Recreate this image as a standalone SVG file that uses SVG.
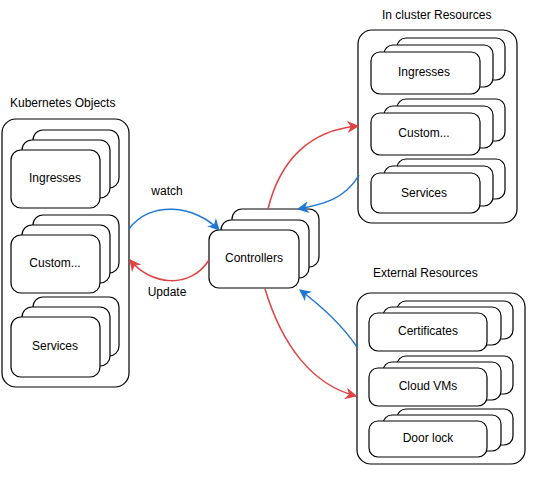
<svg xmlns="http://www.w3.org/2000/svg" width="556" height="488" viewBox="0 0 556 488">
<style>
.c{fill:#fff;stroke:#000;stroke-width:1.2}
.t{font-family:"Liberation Sans",Arial,sans-serif;font-size:12px;fill:#000}
.m{text-anchor:middle}
.b{fill:none;stroke:#1f78d1;stroke-width:1.5}
.r{fill:none;stroke:#e04343;stroke-width:1.5}
</style>
<defs>
<marker id="ab" markerUnits="userSpaceOnUse" markerWidth="12" markerHeight="12" viewBox="0 0 10 10" refX="9" refY="5" orient="auto"><path d="M0,0 L10,5 L0,10 L3,5 Z" fill="#1f78d1"/></marker>
<marker id="ar" markerUnits="userSpaceOnUse" markerWidth="12" markerHeight="12" viewBox="0 0 10 10" refX="9" refY="5" orient="auto"><path d="M0,0 L10,5 L0,10 L3,5 Z" fill="#e04343"/></marker>
</defs>
<rect width="556" height="488" fill="#fff"/>

<g id="kubernetes-objects">
<text class="t" x="10" y="107">Kubernetes Objects</text>
<rect class="c" x="2" y="119" width="127" height="268" rx="14"/>
<g id="k-ingresses">
<rect class="c" x="33" y="130" width="86" height="58" rx="10"/>
<rect class="c" x="22" y="140" width="88" height="58" rx="10"/>
<rect class="c" x="11" y="150" width="89" height="58" rx="10"/>
<text class="t m" x="55" y="182">Ingresses</text>
</g>
<g id="k-custom">
<rect class="c" x="33" y="215" width="86" height="58" rx="10"/>
<rect class="c" x="22" y="225" width="88" height="58" rx="10"/>
<rect class="c" x="11" y="235" width="89" height="58" rx="10"/>
<text class="t m" x="55" y="267">Custom...</text>
</g>
<g id="k-services">
<rect class="c" x="33" y="297" width="86" height="59" rx="10"/>
<rect class="c" x="22" y="307" width="88" height="59" rx="10"/>
<rect class="c" x="11" y="317" width="89" height="60" rx="10"/>
<text class="t m" x="55" y="350">Services</text>
</g>
</g>

<g id="controllers">
<rect class="c" x="232" y="209" width="87" height="58" rx="10"/>
<rect class="c" x="221" y="220" width="88" height="58" rx="10"/>
<rect class="c" x="209" y="230" width="90" height="58" rx="10"/>
<text class="t m" x="254" y="262">Controllers</text>
</g>

<g id="in-cluster-resources">
<text class="t" x="382" y="19">In cluster Resources</text>
<rect class="c" x="358" y="30" width="159" height="193" rx="14"/>
<g id="c-ingresses">
<rect class="c" x="397" y="38" width="108" height="42" rx="9"/>
<rect class="c" x="384" y="45" width="109" height="42" rx="9"/>
<rect class="c" x="371" y="52" width="109" height="42" rx="9"/>
<text class="t m" x="424" y="76">Ingresses</text>
</g>
<g id="c-custom">
<rect class="c" x="397" y="99" width="108" height="42" rx="9"/>
<rect class="c" x="384" y="106" width="109" height="42" rx="9"/>
<rect class="c" x="371" y="113" width="109" height="42" rx="9"/>
<text class="t m" x="424" y="137">Custom...</text>
</g>
<g id="c-services">
<rect class="c" x="397" y="159" width="108" height="40" rx="9"/>
<rect class="c" x="384" y="166" width="109" height="40" rx="9"/>
<rect class="c" x="371" y="173" width="109" height="40" rx="9"/>
<text class="t m" x="424" y="197">Services</text>
</g>
</g>

<g id="external-resources">
<text class="t" x="373" y="277">External Resources</text>
<rect class="c" x="357" y="293" width="168" height="171" rx="14"/>
<g id="e-certificates">
<rect class="c" x="397" y="301" width="116" height="38" rx="9"/>
<rect class="c" x="383" y="307" width="118" height="38" rx="9"/>
<rect class="c" x="369" y="313" width="118" height="38" rx="9"/>
<text class="t m" x="428" y="335">Certificates</text>
</g>
<g id="e-cloudvms">
<rect class="c" x="397" y="356" width="116" height="38" rx="9"/>
<rect class="c" x="383" y="362" width="118" height="38" rx="9"/>
<rect class="c" x="369" y="368" width="118" height="38" rx="9"/>
<text class="t m" x="428" y="390">Cloud VMs</text>
</g>
<g id="e-doorlock">
<rect class="c" x="397" y="409" width="116" height="36" rx="9"/>
<rect class="c" x="383" y="415" width="118" height="36" rx="9"/>
<rect class="c" x="369" y="421" width="118" height="36" rx="9"/>
<text class="t m" x="428" y="442">Door lock</text>
</g>
</g>

<g id="connectors">
<path class="b" d="M129,229 C150,200 195,205 219,230" marker-end="url(#ab)"/>
<text class="t m" x="167" y="195">watch</text>
<path class="r" d="M209,260 C190,290 150,285 130,260" marker-end="url(#ar)"/>
<text class="t m" x="167" y="296">Update</text>
<path class="r" d="M268,209 C280,160 310,130 358,126" marker-end="url(#ar)"/>
<path class="b" d="M359,175 C345,200 320,205 298,209" marker-end="url(#ab)"/>
<path class="b" d="M357,347 C340,322 320,305 300,290" marker-end="url(#ab)"/>
<path class="r" d="M265,289 C282,345 312,385 356,396" marker-end="url(#ar)"/>
</g>
</svg>
